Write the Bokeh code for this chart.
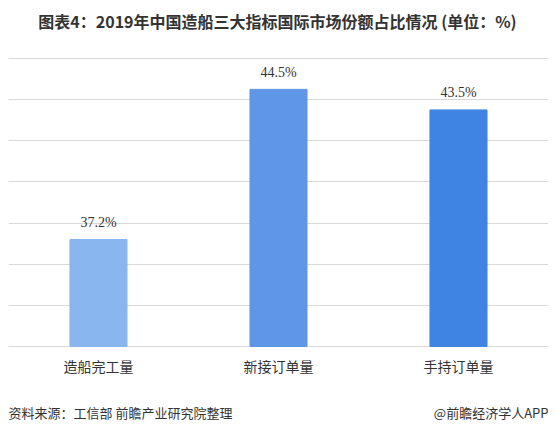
from bokeh.plotting import figure
from bokeh.models import ColumnDataSource, FixedTicker, Label, Range1d, Grid
from bokeh.core.properties import value
from bokeh.embed import file_html
from bokeh.resources import INLINE

categories = ["造船完工量", "新接订单量", "手持订单量"]
shares = [37.2, 44.5, 43.5]
labels = ["37.2%", "44.5%", "43.5%"]
colors = ["#8AB6F0", "#5F97E6", "#3F84E0"]
grid_ticks = [32, 34, 36, 38, 40, 42, 44, 46]
base = 32

src = ColumnDataSource(dict(cat=categories, v=shares, lab=labels, c=colors,
                            b=[base] * len(categories)))

# frame fills the whole height; y range extended so that title and source fit inside it
p = figure(x_range=categories, y_range=Range1d(27.771, 48.819), width=554, height=433,
           output_backend="svg", toolbar_location=None, x_axis_type=None, y_axis_type=None,
           min_border_left=8, min_border_right=6, min_border_top=0, min_border_bottom=0)
p.outline_line_color = None
p.background_fill_color = "white"

p.add_layout(Grid(dimension=1, ticker=FixedTicker(ticks=grid_ticks),
                  grid_line_color="#D9D9D9", grid_line_width=1))

p.vbar(x="cat", top="v", bottom=base, width=0.317, color="c", source=src)
p.text(x="cat", y="v", text="lab", source=src, text_align="center", text_baseline="middle",
       y_offset=-17, text_font=value("Liberation Serif"), text_font_size="14px", text_color="#333333")
# category labels under the baseline
p.text(x="cat", y="b", text="cat", source=src, text_align="center", text_baseline="middle",
       y_offset=19, text_font=value("Noto Sans CJK SC"), text_font_size="14px", text_color="#333333")

p.add_layout(Label(x=269, y=413, x_units="screen", y_units="screen",
                   text="图表4：2019年中国造船三大指标国际市场份额占比情况 (单位：%)",
                   text_align="center", text_baseline="middle", text_font="Noto Sans CJK SC",
                   text_font_size="16px", text_font_style="bold", text_color="#333333"))
p.add_layout(Label(x=0, y=21, x_units="screen", y_units="screen",
                   text="资料来源：工信部 前瞻产业研究院整理",
                   text_align="left", text_baseline="middle", text_font="Noto Sans CJK SC",
                   text_font_size="13px", text_color="#333333"))
p.add_layout(Label(x=540, y=21, x_units="screen", y_units="screen",
                   text="@前瞻经济学人APP",
                   text_align="right", text_baseline="middle", text_font="Noto Sans CJK SC",
                   text_font_size="13px", text_color="#333333"))

open("out.html", "w").write(file_html(p, INLINE))
